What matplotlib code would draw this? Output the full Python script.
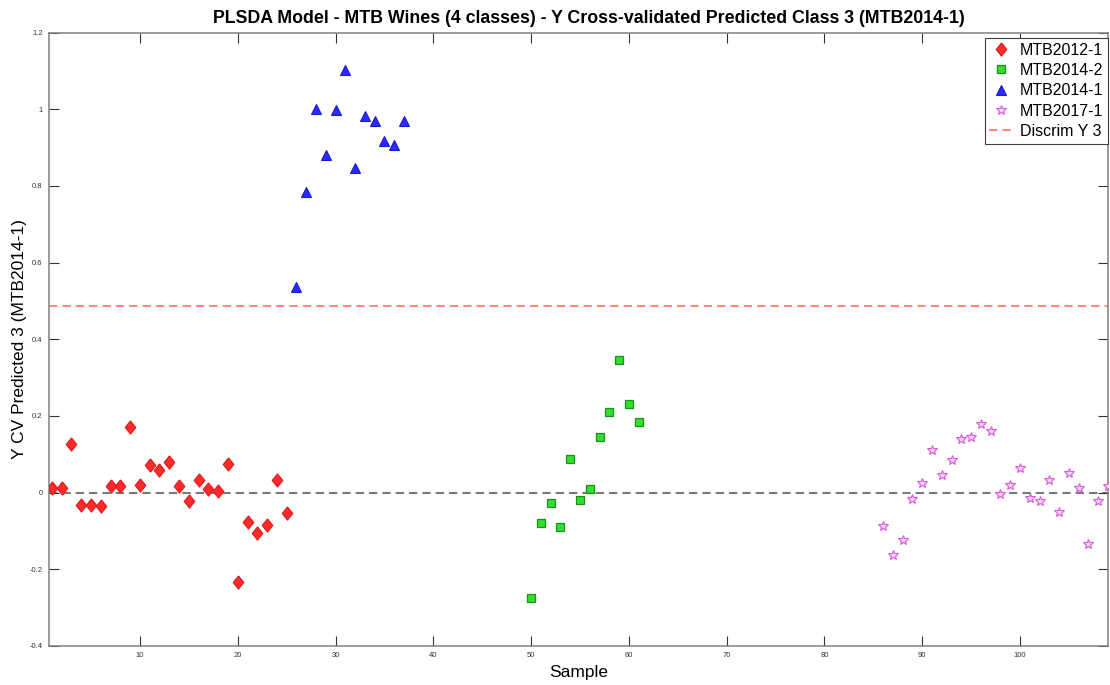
import numpy as np
import matplotlib
matplotlib.use("Agg")
import matplotlib.pyplot as plt

plt.rcParams['font.family'] = ['Liberation Sans', 'DejaVu Sans']

# cross-validated predictions for class 3, grouped by true class
s_2012 = list(range(1, 26))
y_2012 = [0.013, 0.011, 0.128, -0.031, -0.031, -0.035, 0.018, 0.017, 0.172, 0.019,
          0.071, 0.060, 0.081, 0.016, -0.023, 0.032, 0.010, 0.003, 0.075, -0.233,
          -0.076, -0.105, -0.084, 0.032, -0.052]

s_2014_2 = list(range(50, 62))
y_2014_2 = [-0.276, -0.080, -0.028, -0.089, 0.087, -0.018, 0.010, 0.144, 0.210, 0.345,
            0.232, 0.185]

s_2014_1 = list(range(26, 38))
y_2014_1 = [0.536, 0.783, 1.001, 0.880, 0.998, 1.102, 0.846, 0.982, 0.969, 0.916,
            0.906, 0.968]

s_2017 = list(range(86, 110))
y_2017 = [-0.088, -0.163, -0.124, -0.017, 0.025, 0.110, 0.046, 0.085, 0.141, 0.145,
          0.179, 0.160, -0.004, 0.021, 0.063, -0.015, -0.022, 0.034, -0.051, 0.051,
          0.012, -0.133, -0.022, 0.017]

discrim_y = 0.486
xticks = [10, 20, 30, 40, 50, 60, 70, 80, 90, 100]
yticks = [-0.4, -0.2, 0, 0.2, 0.4, 0.6, 0.8, 1, 1.2]
ytick_labels = ['-0.4', '-0.2', '0', '0.2', '0.4', '0.6', '0.8', '1', '1.2']

fig = plt.figure(figsize=(11.1, 6.85), dpi=100)
ax = fig.add_axes([49/1110, 39/685, 1059/1110, 613.5/685])

diamond = [(0, 1), (0.8, 0), (0, -1), (-0.8, 0), (0, 1)]

ax.axhline(0, color='#7a7a7a', lw=1.5, ls=(0, (4, 2.4)), zorder=1)
ax.axhline(discrim_y, color='#ff7a7a', lw=1.3, ls=(0, (4.6, 2.8)), zorder=1,
           label='Discrim Y 3')

ax.plot(s_2012, y_2012, ls='none', marker=diamond, ms=9.5, mfc='#ff2b2b', mec='#e01818',
        mew=0.8, label='MTB2012-1', zorder=3)
ax.plot(s_2014_2, y_2014_2, ls='none', marker='s', ms=5.8, mfc='#33dd33', mec='#149614',
        mew=0.9, label='MTB2014-2', zorder=3)
ax.plot(s_2014_1, y_2014_1, ls='none', marker='^', ms=7.5, mfc='#2b2bff', mec='#1a1ad0',
        mew=0.8, label='MTB2014-1', zorder=3)
ax.plot(s_2017, y_2017, ls='none', marker='*', ms=7.8, mfc='#f6d2f6', mec='#da5ada',
        mew=0.8, label='MTB2017-1', zorder=3)

ax.set_xlim(0.7, 109)
ax.set_ylim(-0.4, 1.2)
ax.set_xticks(xticks)
ax.set_xticklabels([str(t) for t in xticks])
ax.set_yticks(yticks)
ax.set_yticklabels(ytick_labels)
ax.tick_params(direction='in', length=7.5, width=0.8, color='#333333', labelsize=5.5,
               labelcolor='#333333', top=True, right=True, pad=4.5)
for sp in ax.spines.values():
    sp.set_color('#808080')
    sp.set_linewidth(1.1)

ax.set_xlabel('Sample', fontsize=12.5, labelpad=4)
ax.set_ylabel('Y CV Predicted 3 (MTB2014-1)', fontsize=12.5, labelpad=2)
ax.set_title('PLSDA Model - MTB Wines (4 classes) - Y Cross-validated Predicted Class 3 (MTB2014-1)',
             fontsize=12.8, fontweight='bold', pad=7, x=0.51)

# legend order: classes first, discriminant line last
handles, labels = ax.get_legend_handles_labels()
order = [1, 2, 3, 4, 0]
leg = ax.legend([handles[i] for i in order], [labels[i] for i in order],
                loc='upper right', bbox_to_anchor=(1108/1110, 647/685),
                bbox_transform=fig.transFigure, borderaxespad=0, fontsize=11.5,
                fancybox=False, framealpha=1, edgecolor='#404040',
                handlelength=1.5, handletextpad=0.4, labelspacing=0.33,
                borderpad=0.3, numpoints=1)
leg.get_frame().set_linewidth(0.8)

fig.savefig('out.png', dpi=100)
